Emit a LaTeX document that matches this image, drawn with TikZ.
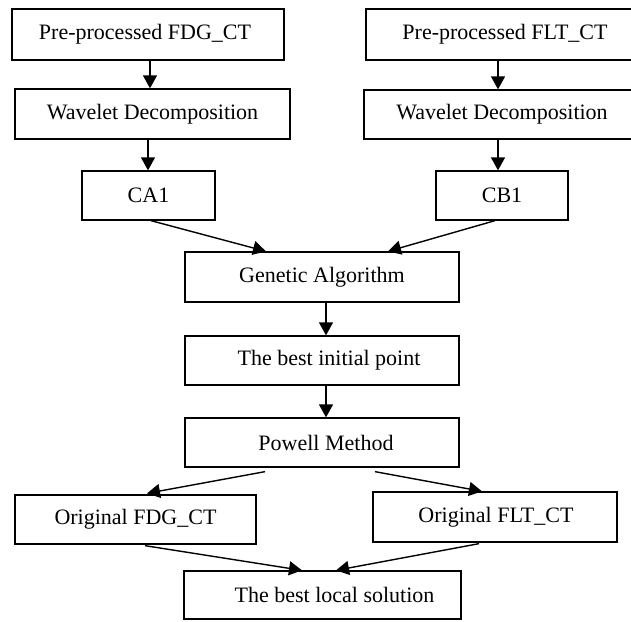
\documentclass[tikz,border=0pt]{standalone}
\usepackage{fontspec}
\setmainfont{Liberation Serif}
\usetikzlibrary{arrows.meta,calc}
\begin{document}
\begin{tikzpicture}[x=1pt,y=-1pt,
  box/.style={draw,line width=1.3pt,inner sep=0pt,align=center,
    font=\fontsize{22}{26}\selectfont},
  arr/.style={line width=1.4pt,-{Triangle[length=13pt,width=14pt]}}]
\useasboundingbox (0,0) rectangle (631,621);
\clip (0,0) rectangle (631,621);
% left column
\node[box,minimum width=272pt,minimum height=51pt] (b1) at (148,34.5) {\hspace*{-6pt}Pre-processed FDG\_CT};
\node[box,minimum width=275pt,minimum height=50pt] (b2) at (152.5,114) {Wavelet Decomposition};
\node[box,minimum width=133pt,minimum height=49pt] (ca) at (148.5,195.5) {CA1};
% right column
\node[box,minimum width=274pt,minimum height=51pt] (b4) at (503,34.5) {\hspace*{4pt}Pre-processed FLT\_CT};
\node[box,minimum width=276pt,minimum height=49pt] (b5) at (502,114.5) {Wavelet Decomposition};
\node[box,minimum width=132pt,minimum height=49pt] (cb) at (502,195.5) {CB1};
% middle
\node[box,minimum width=274pt,minimum height=50pt] (ga) at (322,277) {Genetic Algorithm};
\node[box,minimum width=274pt,minimum height=49pt] (bi) at (322,360.5) {\hspace*{14pt}The best initial point};
\node[box,minimum width=274pt,minimum height=49pt] (pw) at (322,442.5) {\hspace*{8pt}Powell Method};
\node[box,minimum width=241pt,minimum height=49pt] (of) at (135.5,519.5) {Original FDG\_CT};
\node[box,minimum width=244pt,minimum height=50pt] (ol) at (495,517) {\hspace*{2pt}Original FLT\_CT};
\node[box,minimum width=277pt,minimum height=48pt] (bl) at (322.5,595) {\hspace*{24pt}The best local solution};
% arrows
\draw[arr] ($(b1.south)+(2,0)$) -- ($(b2.north)+(-2.5,0)$);
\draw[arr] ($(b2.south)+(-4.5,0)$) -- ($(ca.north)+(-0.5,0)$);
\draw[arr] ($(b4.south)+(-5,0)$) -- ($(b5.north)+(-4,0)$);
\draw[arr] ($(b5.south)+(-4,0)$) -- ($(cb.north)+(-4,0)$);
\draw[arr] ($(ca.south)+(2.5,0)$) -- ($(ga.north)+(-56,0)$);
\draw[arr] ($(cb.south)+(-7,0)$) -- ($(ga.north)+(66,0)$);
\draw[arr] ($(ga.south)+(4,0)$) -- ($(bi.north)+(4,0)$);
\draw[arr] ($(bi.south)+(4,0)$) -- ($(pw.north)+(4,0)$);
\draw[arr] ($(pw.south)+(-57,4)$) -- ($(of.north)+(11.5,-1)$);
\draw[arr] ($(pw.south)+(53,4)$) -- ($(ol.north)+(-13,0)$);
\draw[arr] ($(of.south)+(9.5,1)$) -- ($(bl.north)+(-20.5,0)$);
\draw[arr] ($(ol.south)+(-16,1)$) -- ($(bl.north)+(13.5,0)$);
\end{tikzpicture}
\end{document}
